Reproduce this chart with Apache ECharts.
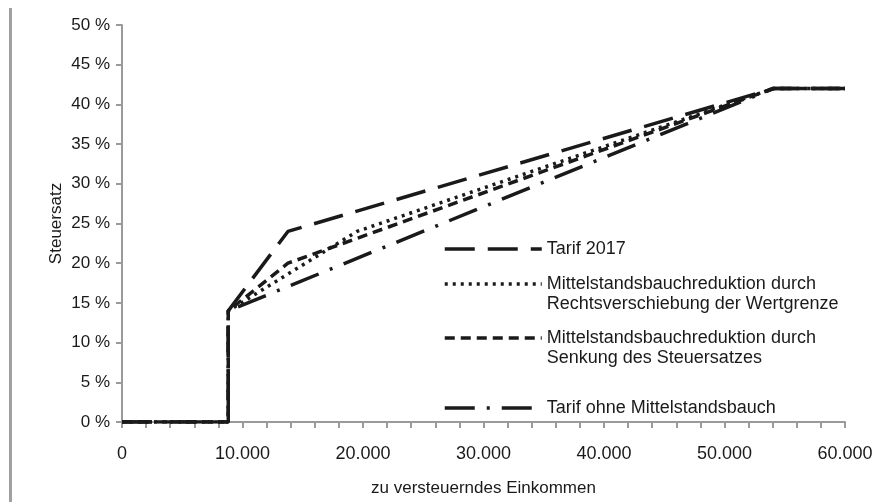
<!DOCTYPE html>
<html>
<head>
<meta charset="utf-8">
<script src="https://cdn.jsdelivr.net/npm/echarts@6/dist/echarts.min.js"></script>
<style>
  html, body { margin: 0; padding: 0; background: #fff; }
  #chart { width: 893px; height: 502px; }
</style>
</head>
<body>
<div id="chart"></div>
<script>
// Grenzsteuersatz je Tarifvariante (Einkommen in Euro, Satz in %)
var tarif2017X = [0, 8820, 8820, 13769, 54058, 60000];
var tarif2017Y = [0, 0, 14, 24, 42, 42];
var rechtsX = [0, 8820, 8820, 19500, 54058, 60000];
var rechtsY = [0, 0, 14, 24, 42, 42];
var senkungX = [0, 8820, 8820, 13769, 54058, 60000];
var senkungY = [0, 0, 14, 20, 42, 42];
var ohneX = [0, 8820, 8820, 54058, 60000];
var ohneY = [0, 0, 14, 42, 42];

var seriesNames = [
  'Tarif 2017',
  'Mittelstandsbauchreduktion durch\nRechtsverschiebung der Wertgrenze',
  'Mittelstandsbauchreduktion durch\nSenkung des Steuersatzes',
  'Tarif ohne Mittelstandsbauch'
];

var font = "'Liberation Sans', Arial, sans-serif";
var ink = '#1a1a1a';
var axisGray = '#9a9a9a';

function zip(xs, ys) {
  return xs.map(function (x, i) { return [x, ys[i]]; });
}

function mkSeries(name, xs, ys, dash) {
  return {
    name: name,
    type: 'line',
    data: zip(xs, ys),
    symbol: 'none',
    animation: false,
    lineStyle: { color: ink, width: 3.5, type: dash, cap: 'butt' },
    itemStyle: { color: ink }
  };
}

function mkLegend(name, top, twoLines) {
  return {
    data: [name],
    left: 443,
    top: top,
    padding: 0,
    itemWidth: 97,
    itemHeight: 14,
    selectedMode: false,
    itemStyle: { opacity: 0 },
    lineStyle: { width: 3.5 },
    // leere Zeile oben, damit die Linie auf Höhe der ersten Textzeile sitzt
    formatter: twoLines ? function (n) { return ' \n' + n; } : '{name}',
    textStyle: {
      fontFamily: font,
      fontSize: 18,
      color: ink,
      lineHeight: 20
    }
  };
}

var myChart = echarts.init(document.getElementById('chart'));

var option = {
  backgroundColor: '#fff',
  animation: false,
  grid: { left: 122, right: 48, top: 25, bottom: 75 },
  graphic: [
    {
      type: 'rect',
      shape: { x: 9, y: 8, width: 3, height: 494 },
      style: { fill: '#a0a0a0' }
    }
  ],
  legend: [
    mkLegend(seriesNames[0], 239),
    mkLegend(seriesNames[1], 254, true),
    mkLegend(seriesNames[2], 308, true),
    mkLegend(seriesNames[3], 398)
  ],
  xAxis: {
    type: 'value',
    min: 0,
    max: 60000,
    interval: 10000,
    name: 'zu versteuerndes Einkommen',
    nameLocation: 'middle',
    nameGap: 58,
    nameTextStyle: { fontFamily: font, fontSize: 17, color: ink },
    splitLine: { show: false },
    axisLine: { lineStyle: { color: axisGray, width: 2 } },
    axisTick: { show: true, length: 6, lineStyle: { color: axisGray, width: 2 } },
    minorTick: { show: true, splitNumber: 5, length: 6, lineStyle: { color: axisGray, width: 2 } },
    axisLabel: {
      margin: 23,
      fontFamily: font,
      fontSize: 18,
      color: ink,
      formatter: function (v) {
        return v === 0 ? '0' : v.toLocaleString('de-DE');
      }
    }
  },
  yAxis: {
    type: 'value',
    min: 0,
    max: 50,
    interval: 5,
    name: 'Steuersatz',
    nameLocation: 'middle',
    nameGap: 57,
    nameMoveOverlap: false,
    nameTextStyle: { fontFamily: font, fontSize: 17, color: ink },
    splitLine: { show: false },
    axisLine: { show: true, lineStyle: { color: axisGray, width: 2 } },
    axisTick: { show: true, length: 6, lineStyle: { color: axisGray, width: 2 } },
    axisLabel: {
      margin: 12,
      fontFamily: font,
      fontSize: 17,
      color: ink,
      formatter: '{value} %'
    }
  },
  series: [
    mkSeries(seriesNames[0], tarif2017X, tarif2017Y, [30, 13]),
    mkSeries(seriesNames[1], rechtsX, rechtsY, [3, 5]),
    mkSeries(seriesNames[2], senkungX, senkungY, [10, 6]),
    mkSeries(seriesNames[3], ohneX, ohneY, [30, 12, 3, 12])
  ]
};

myChart.setOption(option);
</script>
</body>
</html>
